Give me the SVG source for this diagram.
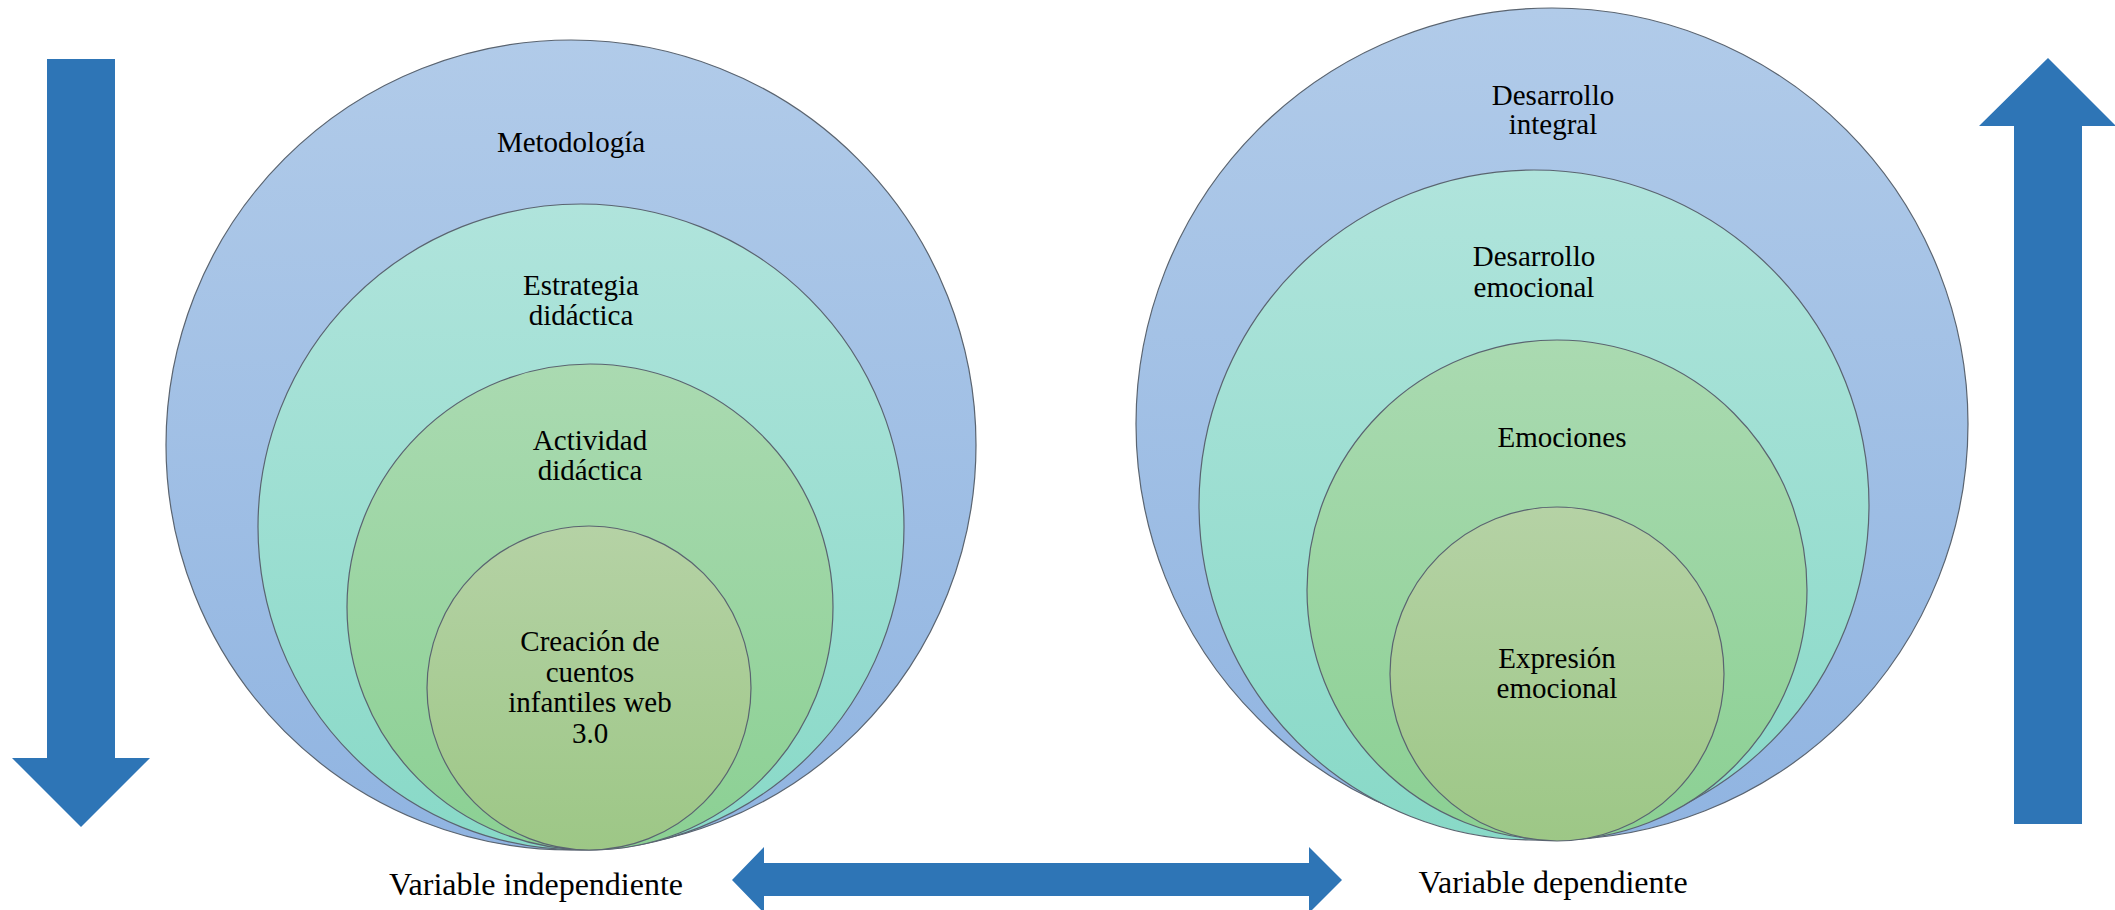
<svg xmlns="http://www.w3.org/2000/svg" width="2115" height="910" viewBox="0 0 2115 910">
<style>
.c{stroke:#5a6470;stroke-width:1.2}
.t{font-family:"Liberation Serif","Times New Roman",serif;font-size:29px;fill:#000;text-anchor:middle}
.v{font-family:"Liberation Serif","Times New Roman",serif;font-size:32px;fill:#000;text-anchor:middle}
.a{fill:#2E75B6}
</style>
<defs>
<linearGradient id="g1" x1="0" y1="0" x2="0" y2="1"><stop offset="0" stop-color="#B1CBE9"/><stop offset="1" stop-color="#90B4E1"/></linearGradient>
<linearGradient id="g2" x1="0" y1="0" x2="0" y2="1"><stop offset="0" stop-color="#B0E4DC"/><stop offset="1" stop-color="#88D9C7"/></linearGradient>
<linearGradient id="g3" x1="0" y1="0" x2="0" y2="1"><stop offset="0" stop-color="#AADAB1"/><stop offset="1" stop-color="#8BD093"/></linearGradient>
<linearGradient id="g4" x1="0" y1="0" x2="0" y2="1"><stop offset="0" stop-color="#B5D2A5"/><stop offset="1" stop-color="#9DC786"/></linearGradient>
</defs>

<g id="left-1"><circle class="c" cx="571" cy="445" r="405" fill="url(#g1)"/><text class="t" x="571" y="152">Metodología</text></g>
<g id="left-2"><circle class="c" cx="581" cy="527" r="323" fill="url(#g2)"/><text class="t" x="581" y="295">Estrategia</text><text class="t" x="581" y="325">didáctica</text></g>
<g id="left-3"><circle class="c" cx="590" cy="607" r="243" fill="url(#g3)"/><text class="t" x="590" y="450">Actividad</text><text class="t" x="590" y="480">didáctica</text></g>
<g id="left-4"><circle class="c" cx="589" cy="688" r="162" fill="url(#g4)"/><text class="t" x="590" y="651">Creación de</text><text class="t" x="590" y="682">cuentos</text><text class="t" x="590" y="712">infantiles web</text><text class="t" x="590" y="743">3.0</text></g>

<g id="right-1"><circle class="c" cx="1552" cy="424" r="416" fill="url(#g1)"/><text class="t" x="1553" y="105">Desarrollo</text><text class="t" x="1553" y="134">integral</text></g>
<g id="right-2"><circle class="c" cx="1534" cy="505" r="335" fill="url(#g2)"/><text class="t" x="1534" y="266">Desarrollo</text><text class="t" x="1534" y="297">emocional</text></g>
<g id="right-3"><circle class="c" cx="1557" cy="590" r="250" fill="url(#g3)"/><text class="t" x="1562" y="447">Emociones</text></g>
<g id="right-4"><circle class="c" cx="1557" cy="674" r="167" fill="url(#g4)"/><text class="t" x="1557" y="668">Expresión</text><text class="t" x="1557" y="698">emocional</text></g>

<g id="label-independiente"><text class="v" x="536" y="895">Variable independiente</text></g>
<g id="label-dependiente"><text class="v" x="1553" y="893">Variable dependiente</text></g>

<g id="connectors">
<polygon class="a" points="47,59 115,59 115,758 150,758 81,827 12,758 47,758"/>
<polygon class="a" points="2014,824 2082,824 2082,126 2116,126 2048,58 1979,126 2014,126"/>
<polygon class="a" points="732,880 764,847 764,863 1309,863 1309,847 1342,880 1309,913 1309,896 764,896 764,913"/>
</g>
</svg>
